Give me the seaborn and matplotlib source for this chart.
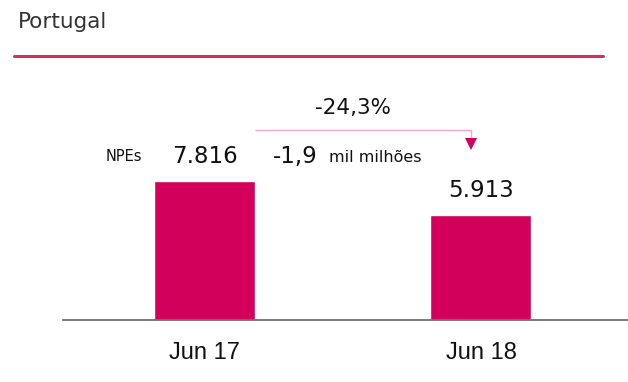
import matplotlib
matplotlib.use("Agg")
import matplotlib.pyplot as plt
import seaborn as sns
import pandas as pd

categories = ["Jun 17", "Jun 18"]
values = [7.816, 5.913]
value_labels = ["7.816", "5.913"]
title = "Portugal"
series_label = "NPEs"
pct_change = "-24,3%"
abs_change = "-1,9"
abs_unit = "mil milhões"

bar_color = "#D2005A"
line_color = "#D0305F"

sns.set_theme(style="white")
plt.rcParams['font.family'] = ['DejaVu Sans']

fig = plt.figure(figsize=(6.28, 3.82), dpi=100)
ax = fig.add_axes([63/628, 1-320/382, 1-63/628, 250/382])

df = pd.DataFrame({"cat": categories, "val": values})
sns.barplot(data=df, x="cat", y="val", color=bar_color, saturation=1,
            width=0.365, ax=ax)

ax.set_xlim(-0.512, 1.532)
ax.set_ylim(0, 14.06)
ax.set_xlabel("")
ax.set_ylabel("")
ax.set_yticks([])
for s in ["top", "right", "left"]:
    ax.spines[s].set_visible(False)
ax.spines["bottom"].set_color("#707070")
ax.spines["bottom"].set_linewidth(1.3)
ax.tick_params(axis="x", length=0, pad=16)
for lab in ax.get_xticklabels():
    lab.set_fontfamily("Liberation Sans")
    lab.set_fontsize(17)
    lab.set_color("#111111")

# value labels
for i, (v, t) in enumerate(zip(values, value_labels)):
    ax.text(i, v + 1.38, t, ha="center", va="center", fontsize=16.5,
            color="#111111")

# series label
ax.text(-0.29, values[0] + 1.38, series_label, ha="center", va="center",
        fontsize=10.5, color="#111111")

# arrow
x0 = 0.183
x1 = 0.963
y_line = 10.69
ax.plot([x0, x1, x1], [y_line, y_line, 10.2], color="#F5A8C8", lw=1.0,
        solid_capstyle="butt", clip_on=False)
ax.plot([x1], [9.88], marker="v", markersize=8, color=bar_color,
        markeredgewidth=0, clip_on=False)

# change labels
ax.text(0.537, 11.9, pct_change, ha="center", va="center", fontsize=15.5,
        color="#111111")
ax.text(0.248, values[0] + 1.38, abs_change, ha="left", va="center",
        fontsize=16.5, color="#111111")
ax.text(0.45, values[0] + 1.32, abs_unit, ha="left", va="center",
        fontsize=11.5, color="#111111")

# title and rule
fig.text(18/628, 1-22/382, title, ha="left", va="center", fontsize=15.5,
         color="#333333")
fig.add_artist(plt.Line2D([14/628, 603/628], [1-55.5/382, 1-55.5/382],
                          color=line_color, lw=2.2))

fig.savefig("out.png", dpi=100)
